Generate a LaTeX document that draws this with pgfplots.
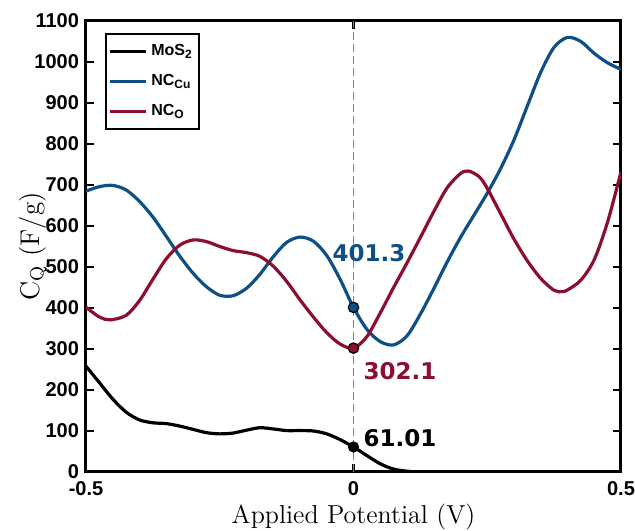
\documentclass[border=0pt]{standalone}
\usepackage{pgfplots}
\pgfplotsset{compat=1.18}
\usepackage{fontspec}
\newfontfamily\arialfont{Liberation Sans}
\newfontfamily\annofont{DejaVu Sans}

\definecolor{cuBlue}{RGB}{14,79,133}
\definecolor{oRed}{RGB}{139,16,48}

\begin{document}
\begin{tikzpicture}
\begin{axis}[
  scale only axis,
  width=267.5pt, height=225.5pt,
  xmin=-0.5, xmax=0.5, ymin=0, ymax=1100,
  xtick={-0.5,0,0.5},
  xticklabels={-0.5,0,0.5},
  ytick={0,100,...,1100},
  /pgf/number format/1000 sep={},
  tick align=inside,
  major tick length=4pt,
  every tick/.style={black, line width=1.3pt},
  axis line style={line width=1.5pt, black},
  /pgf/number format/assume math mode=true,
  tick label style={font=\arialfont\bfseries\fontsize{10}{12}\selectfont},
  xticklabel style={yshift=-1pt},
  xlabel={Applied Potential (V)},
  ylabel={C$_{\mathrm{Q}}$ (F/g)},
  every axis x label/.style={at={(rel axis cs:0.5,0)}, anchor=center, yshift=-22.5pt},
  every axis y label/.style={at={(rel axis cs:0,0.5)}, anchor=center, rotate=90, yshift=26.5pt},
  label style={font=\fontsize{13.5}{15}\selectfont},
  xlabel style={font=\fontsize{13}{15}\selectfont},
  clip mode=individual,
  legend style={
    at={(0,1)}, anchor=north west, xshift=9.5pt, yshift=-6pt,
    draw=black, line width=1.1pt,
    font=\arialfont\bfseries\fontsize{8}{9}\selectfont,
    inner xsep=1pt, inner ysep=3pt,
    row sep=4pt,
  },
  legend cell align=left,
  legend image code/.code={\draw[#1, line width=1.6pt] (0pt,0pt) -- (18pt,0pt);},
]
\coordinate (ll) at (rel axis cs:0,0);
\coordinate (ur) at (rel axis cs:1,1);

% reference line at 0 V
\addplot[gray, line width=0.6pt, dash pattern=on 4pt off 2pt, forget plot]
  coordinates {(0,0) (0,1100)};

% MoS2
\addplot[black, line width=1.6pt, smooth] coordinates {
(-0.5,258) (-0.475,218) (-0.45,178) (-0.425,146) (-0.4,127) (-0.375,120)
(-0.35,118) (-0.325,112) (-0.3,104) (-0.275,96) (-0.25,93) (-0.225,95)
(-0.2,102) (-0.175,108) (-0.15,105) (-0.125,101) (-0.1,101) (-0.075,100)
(-0.05,93) (-0.025,79) (0,61.01) (0.025,40) (0.05,20) (0.075,7) (0.1,2)
(0.125,0) (0.2,0) (0.3,0) (0.4,0) (0.5,0)};
\addlegendentry{MoS\textsubscript{2}}

% NC_Cu
\addplot[cuBlue, line width=1.6pt, smooth] coordinates {
(-0.5,685) (-0.475,696) (-0.45,699) (-0.425,688) (-0.4,660) (-0.375,622)
(-0.35,575) (-0.325,527) (-0.3,485) (-0.275,452) (-0.25,431) (-0.225,430)
(-0.2,448) (-0.175,482) (-0.15,525) (-0.125,560) (-0.1,573) (-0.075,563)
(-0.05,528) (-0.025,470) (0,401.3) (0.025,348) (0.05,318) (0.075,310)
(0.1,332) (0.125,385) (0.15,447) (0.175,512) (0.2,572) (0.225,626)
(0.25,680) (0.275,740) (0.3,810) (0.325,893) (0.35,975) (0.375,1036)
(0.4,1060) (0.425,1050) (0.45,1021) (0.475,998) (0.5,982)};
\addlegendentry{NC\textsubscript{Cu}}

% NC_O
\addplot[oRed, line width=1.6pt, smooth] coordinates {
(-0.5,402) (-0.475,378) (-0.455,371) (-0.425,382) (-0.4,418) (-0.375,470)
(-0.35,520) (-0.325,553) (-0.3,566) (-0.275,562) (-0.25,550) (-0.225,540)
(-0.2,535) (-0.175,526) (-0.15,502) (-0.125,465) (-0.1,420) (-0.075,378)
(-0.05,340) (-0.025,312) (0,302.1) (0.025,330) (0.05,388) (0.075,450)
(0.1,510) (0.125,572) (0.15,635) (0.175,693) (0.2,728) (0.215,734)
(0.235,720) (0.25,692) (0.275,630) (0.3,568) (0.325,515) (0.35,472)
(0.375,443) (0.39,440) (0.4,444) (0.425,468) (0.45,518) (0.475,610) (0.5,732)};
\addlegendentry{NC\textsubscript{O}}

% values at 0 V
\addplot[only marks, mark=*, mark size=2.6pt, draw=black, fill=black, forget plot]
  coordinates {(0,61.01)};
\addplot[only marks, mark=*, mark size=2.6pt, draw=black, fill=cuBlue, line width=0.6pt, forget plot]
  coordinates {(0,401.3)};
\addplot[only marks, mark=*, mark size=2.6pt, draw=black, fill=oRed, line width=0.6pt, forget plot]
  coordinates {(0,302.1)};

\node[font=\annofont\bfseries\fontsize{11.5}{13}\selectfont, text=cuBlue] at (axis cs:0.029,534) {401.3};
\node[font=\annofont\bfseries\fontsize{11.5}{13}\selectfont, text=oRed] at (axis cs:0.087,246) {302.1};
\node[font=\annofont\bfseries\fontsize{11.5}{13}\selectfont, text=black] at (axis cs:0.087,83) {61.01};
\end{axis}
\pgfresetboundingbox
\path ([shift={(-43pt,-29.5pt)}]ll) rectangle ([shift={(7pt,10.5pt)}]ur);
\end{tikzpicture}
\end{document}
